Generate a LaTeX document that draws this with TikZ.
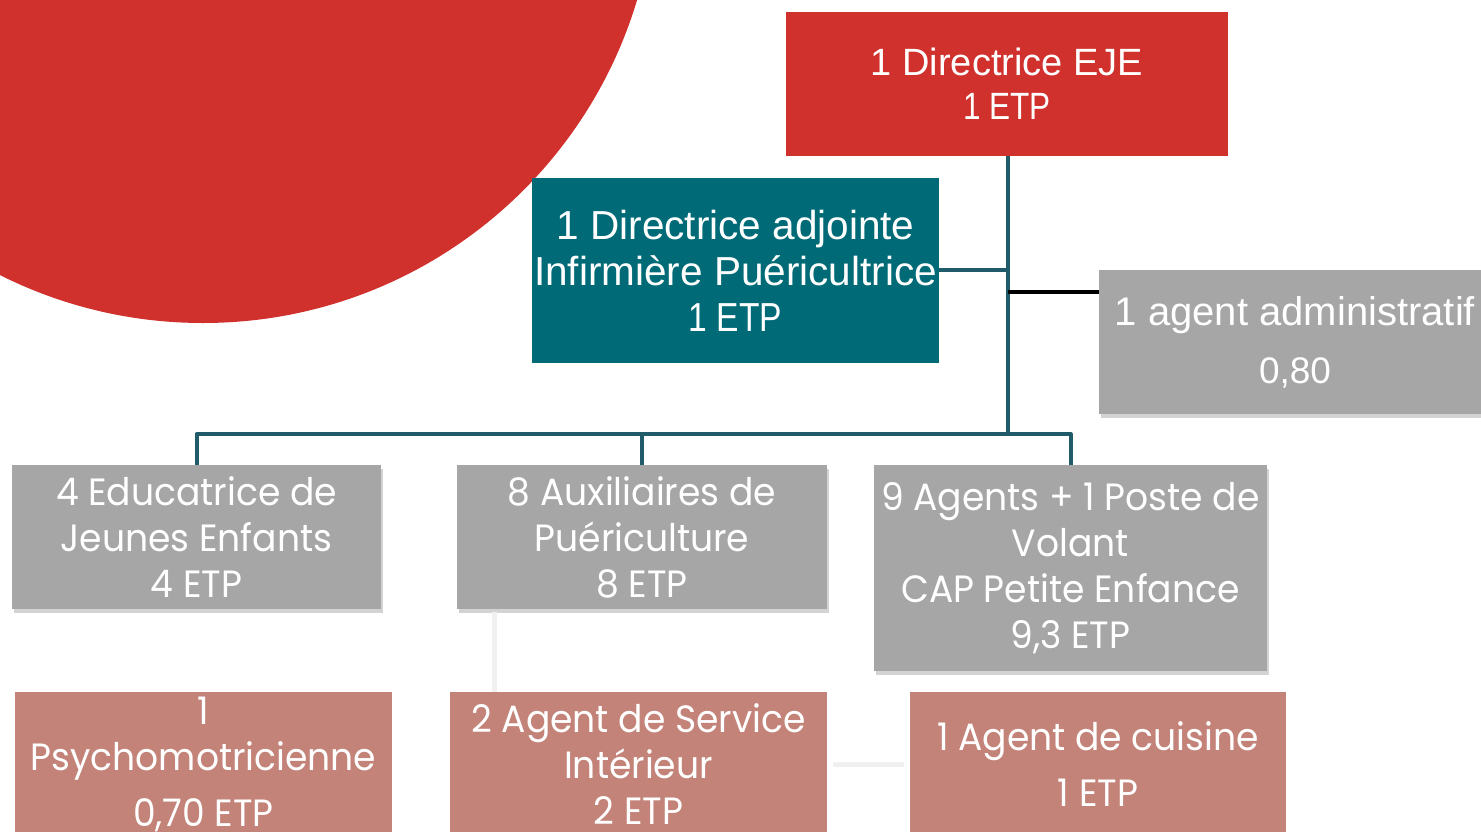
\documentclass[tikz,border=0pt]{standalone}
\usepackage{fontspec}
\setmainfont{Liberation Sans}
\newfontfamily\gothic[FakeStretch=0.95]{Poppins}
\newfontfamily\narrowsans[FakeStretch=0.83]{Liberation Sans}
\usetikzlibrary{shadows}
\definecolor{cred}{HTML}{D0312D}
\definecolor{cteal}{HTML}{006B77}
\definecolor{cgrey}{HTML}{A6A6A6}
\definecolor{cpink}{HTML}{C38379}
\definecolor{cline}{HTML}{215A69}
\definecolor{cfaint}{HTML}{F0F0F0}
\tikzset{
  box/.style={rectangle, inner sep=0pt, outer sep=0pt, text=white, align=center},
  redbox/.style={box, fill=cred, font=\fontsize{38}{44}\selectfont},
  tealbox/.style={box, fill=cteal, font=\fontsize{40.5}{46}\selectfont},
  greybox/.style={box, fill=cgrey, drop shadow={opacity=0.35, shadow xshift=2pt, shadow yshift=-4pt}},
  gfont/.style={font=\gothic\fontsize{38}{46}\selectfont},
  pinkbox/.style={box, fill=cpink, font=\gothic\fontsize{38}{46}\selectfont},
  conn/.style={draw=cline, line width=4pt, line join=round},
  faint/.style={draw=cfaint, line width=5pt},
}
\begin{document}
\begin{tikzpicture}[x=1pt, y=-1pt]
\useasboundingbox (0,0) rectangle (1481,831);
\clip (0,0) rectangle (1481,831);
% background circle
\fill[cred] (203,-130) circle[radius=453];
% top nodes
\node[redbox, minimum width=442, minimum height=144] (dir) at (1007,84) {1 Directrice EJE\\{\narrowsans 1 ETP}};
\node[tealbox, minimum width=407, minimum height=185] (adj) at (735.5,270.5) {1 Directrice adjointe\\Infirmière Puéricultrice\\{\narrowsans 1 ETP}};
\node[greybox, font=\fontsize{37}{58}\selectfont, minimum width=392, minimum height=144] (adm) at (1295,342) {{\fontsize{40}{58}\selectfont 1 agent administratif}\\0,80};
% second row
\node[greybox, gfont, minimum width=369, minimum height=144] (g1) at (196.5,537) {4 Educatrice de\\Jeunes Enfants\\4 ETP};
\node[greybox, gfont, minimum width=370, minimum height=144] (g2) at (642,537) {8 Auxiliaires de\\Puériculture\\8 ETP};
\node[greybox, gfont, minimum width=393, minimum height=206] (g3) at (1070.5,568) {9 Agents + 1 Poste de\\Volant\\CAP Petite Enfance\\9,3 ETP};
% third row
\node[pinkbox, minimum width=377, minimum height=144] (p1) at (203.5,764) {1\\Psychomotricienne\\[10pt]0,70 ETP};
\node[pinkbox, minimum width=377, minimum height=144] (p2) at (638.5,764) {2 Agent de Service\\Intérieur\\2 ETP};
\node[pinkbox, font=\gothic\fontsize{38}{56}\selectfont, minimum width=376, minimum height=144] (p3) at (1098,764) {1 Agent de cuisine\\1 ETP};
% connectors
\coordinate (hub) at (1008,434);
\coordinate (blk) at (1008,292);
\draw[conn] (dir.south -| hub) -- (hub);
\draw[conn] (adj.east |- 0,270) -- (hub |- 0,270);
\draw[draw=black, line width=4pt] (blk) -- (adm.west |- blk);
\draw[conn] (g1.north) |- (hub);
\draw[conn] (g2.north) -- (g2.north |- hub);
\draw[conn] (g3.north) |- (hub);
% faint lines
\draw[faint] (494,612) -- (p2.north -| 494,0);
\draw[faint] (p2.east |- 0,764) ++(6,0) -- ([xshift=-6pt]p3.west);
\end{tikzpicture}
\end{document}
